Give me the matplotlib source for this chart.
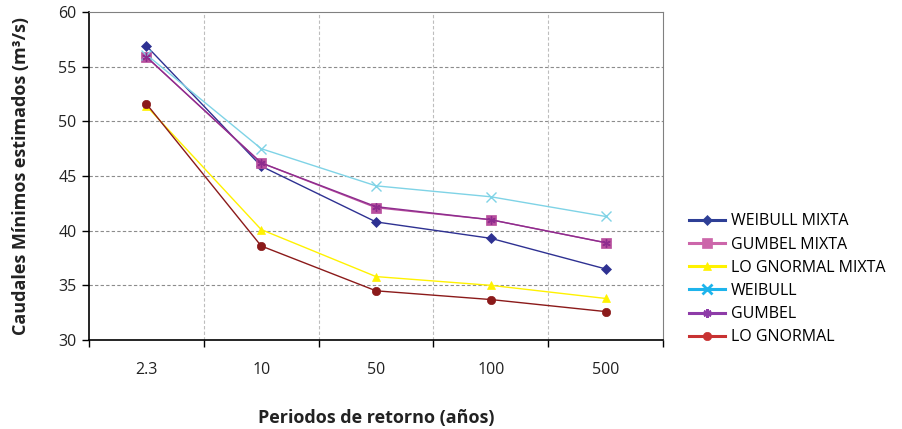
import matplotlib
matplotlib.use("Agg")
import matplotlib.pyplot as plt
from matplotlib.lines import Line2D
import numpy as np

plt.rcParams['font.family'] = ['Open Sans', 'DejaVu Sans']

periodos = ["2.3", "10", "50", "100", "500"]

weibull_mixta = [56.9, 45.9, 40.8, 39.3, 36.5]
gumbel_mixta = [55.9, 46.2, 42.1, 41.0, 38.9]
lognormal_mixta = [51.4, 40.1, 35.8, 35.0, 33.8]
weibull = [56.1, 47.5, 44.1, 43.1, 41.3]
gumbel = [55.9, 46.2, 42.2, 41.0, 38.9]
lognormal = [51.6, 38.6, 34.5, 33.7, 32.6]

# name, values, line colour, legend colour, marker, marker size
series = [
    ("WEIBULL MIXTA", weibull_mixta, "#2E3192", "#2E3F96", "D", 5),
    ("GUMBEL MIXTA", gumbel_mixta, "#B8509E", "#CC66AA", "s", 7),
    ("LO GNORMAL MIXTA", lognormal_mixta, "#FFF200", "#FFF200", "^", 6),
    ("WEIBULL", weibull, "#7FD3E6", "#1EB4EC", "x", 7),
    ("GUMBEL", gumbel, "#8E2C8E", "#8E3CA8", (6, 2, 0), 6),
    ("LO GNORMAL", lognormal, "#8B1A1A", "#C83232", "o", 6),
]

fig = plt.figure(figsize=(9.02, 4.29), dpi=100)
ax = fig.add_axes([89 / 902, 1 - 340 / 429, (663 - 89) / 902, (340 - 12) / 429])

x = np.arange(len(periodos))
handles = []
for name, vals, color, leg_color, marker, ms in series:
    thin = marker in ("x", (6, 2, 0))
    ax.plot(x, vals, color=color, marker=marker, markersize=ms, linewidth=1.0,
            markeredgewidth=1.0 if thin else 0.5, markeredgecolor=color, zorder=3)
    handles.append(Line2D([], [], color=leg_color, linewidth=2.2, marker=marker,
                          markersize=ms, markeredgewidth=2 if thin else 0.5,
                          markeredgecolor=leg_color, label=name))

ax.set_xlim(-0.5, len(periodos) - 0.5)
ax.set_ylim(30, 60)
ax.set_yticks(np.arange(30, 61, 5))

# category labels centred, tick marks between categories
ax.set_xticks(x)
ax.set_xticklabels(periodos, fontsize=11.5, color="#222222")
ax.tick_params(axis="x", which="major", length=0, pad=16)
ax.set_xticks(np.arange(-0.5, len(periodos), 1.0), minor=True)
ax.tick_params(axis="x", which="minor", length=5, width=1, direction="out")
ax.tick_params(axis="y", length=5, width=1, direction="out", labelsize=11.5,
               labelcolor="#222222", pad=4)

for yv in range(35, 60, 5):
    ax.axhline(yv, color="#8C8C8C", linestyle=(0, (3, 2)), linewidth=0.8, zorder=1)
for xv in np.arange(0.5, len(periodos) - 1, 1.0):
    ax.axvline(xv, color="#BDBDBD", linestyle=(0, (3, 2)), linewidth=0.8, zorder=1)

ax.spines["left"].set_color("#000000")
ax.spines["bottom"].set_color("#000000")
ax.spines["left"].set_linewidth(1.2)
ax.spines["bottom"].set_linewidth(1.2)
ax.spines["top"].set_color("#808080")
ax.spines["right"].set_color("#808080")

ax.set_ylabel("Caudales Mínimos estimados (m³/s)", fontsize=13, fontweight="bold",
              color="#222222", labelpad=20)
ax.set_xlabel("Periodos de retorno (años)", fontsize=13, fontweight="bold",
              color="#222222", labelpad=22)

fig.legend(handles=handles, loc="upper left", bbox_to_anchor=(683 / 902, 1 - 207 / 429),
           frameon=False, fontsize=11.5, handlelength=2.2, labelspacing=0.45,
           handletextpad=0.4, borderaxespad=0)

fig.savefig("out.png", dpi=100)
